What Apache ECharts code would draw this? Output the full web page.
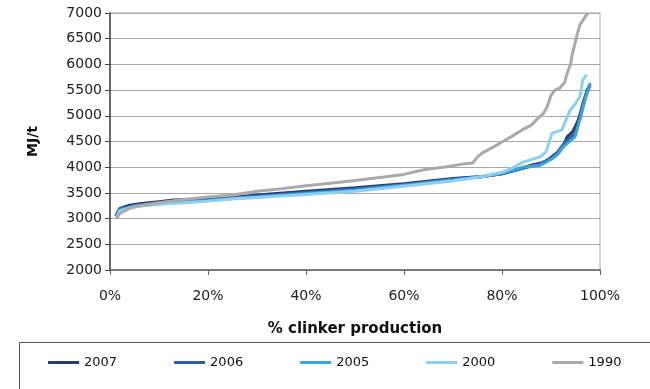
<!DOCTYPE html>
<html>
<head>
<meta charset="utf-8">
<script src="https://cdn.jsdelivr.net/npm/echarts@6/dist/echarts.min.js"></script>
<style>html,body{margin:0;padding:0;background:#fff}#c{width:650px;height:389px}</style>
</head>
<body>
<div id="c"></div>
<script>
var seriesNames = ['2007', '2006', '2005', '2000', '1990'];
var xTicks = [0, 20, 40, 60, 80, 100];
var yTicks = [2000, 2500, 3000, 3500, 4000, 4500, 5000, 5500, 6000, 6500, 7000];

var s2007 = [[1.2,3050],[2,3200],[4,3260],[6,3290],[10,3330],[13,3360],[20,3385],[25,3415],[30,3460],[40,3530],[50,3600],[60,3680],[70,3780],[76,3820],[80,3870],[84,3980],[86,4040],[88,4080],[89.5,4150],[90.5,4230],[91.4,4280],[92.5,4400],[93.3,4590],[94.5,4700],[95.5,4900],[96,5050],[96.7,5300],[97.4,5500],[97.9,5600]];
var s2006 = [[1.2,3050],[2,3190],[5,3260],[10,3310],[15,3340],[20,3370],[25,3400],[30,3440],[40,3510],[50,3580],[60,3660],[70,3770],[75.5,3810],[80,3870],[84.3,3980],[87.8,4060],[90,4170],[91.4,4300],[93,4500],[94.9,4650],[95.9,4950],[97,5350],[98,5600]];
var s2005 = [[1.3,3040],[2,3170],[5,3240],[10,3290],[15,3320],[20,3350],[25,3390],[30,3420],[40,3490],[50,3550],[60,3650],[70,3750],[75.5,3810],[80,3880],[84.3,4000],[87.8,4040],[90,4150],[91.4,4250],[92.4,4390],[94.9,4590],[95.9,4930],[96.9,5300],[98,5640]];
var s2000 = [[1.3,3020],[2,3150],[4,3210],[6,3240],[10,3280],[15,3310],[20,3340],[25,3380],[30,3410],[40,3470],[50,3530],[60,3630],[70,3730],[74,3790],[76,3820],[80,3900],[82,3980],[84.3,4100],[86,4150],[87.8,4200],[89,4300],[90.2,4660],[92.2,4720],[93.9,5110],[94.5,5170],[95.9,5370],[96.5,5700],[97.3,5800]];
var s1990 = [[1.3,3000],[2,3100],[4,3200],[6,3250],[10,3310],[15,3370],[20,3420],[25,3460],[30,3530],[35,3580],[40,3640],[45,3690],[50,3740],[55,3800],[60,3860],[64,3950],[68,4000],[72,4060],[74,4080],[75,4200],[76,4280],[78,4380],[80,4490],[82,4600],[84,4720],[86,4820],[87,4920],[88.5,5050],[89.2,5170],[90,5400],[90.8,5500],[91.8,5540],[92.8,5650],[93.3,5830],[94,6000],[94.3,6180],[94.9,6410],[95.3,6570],[95.9,6770],[97.2,6960],[97.6,7000]];

var colors = ['#2b3a6b', '#2c62a8', '#3ba5d8', '#8fd0f0', '#aaaaaa'];
var allData = [s2007, s2006, s2005, s2000, s1990];

var chart = echarts.init(document.getElementById('c'), null, {renderer: 'canvas'});
var font = 'DejaVu Sans, Arial, sans-serif';
chart.setOption({
  animation: false,
  backgroundColor: '#ffffff',
  color: colors,
  textStyle: {fontFamily: font},
  grid: {left: 110, right: 50, top: 13, bottom: 119, show: true, borderColor: '#a8a8a8', borderWidth: 1, backgroundColor: '#ffffff'},
  graphic: [{
    type: 'rect', left: 17, top: 340,
    shape: {width: 631, height: 80},
    style: {fill: 'none', stroke: '#555555', lineWidth: 1}
  }],
  legend: {
    left: 48, top: 356, padding: 0,
    itemWidth: 31, itemHeight: 3, itemGap: 57,
    icon: 'rect',
    textStyle: {fontFamily: font, fontSize: 13, color: '#111'},
    data: seriesNames
  },
  xAxis: {
    type: 'value', min: xTicks[0], max: xTicks[xTicks.length - 1], interval: 20,
    name: '% clinker production', nameLocation: 'middle', nameGap: 52,
    nameTextStyle: {fontFamily: font, fontWeight: 'bold', fontSize: 15, color: '#111'},
    axisLine: {show: true, lineStyle: {color: '#666', width: 1.5}},
    axisTick: {show: true, length: 5, lineStyle: {color: '#666'}},
    axisLabel: {formatter: '{value}%', fontSize: 14, color: '#222', margin: 19},
    splitLine: {show: false}
  },
  yAxis: {
    type: 'value', min: yTicks[0], max: yTicks[yTicks.length - 1], interval: 500,
    name: 'MJ/t', nameLocation: 'middle', nameGap: 70, nameRotate: 90,
    nameTextStyle: {fontFamily: font, fontWeight: 'bold', fontSize: 14, color: '#111'},
    axisLine: {show: true, lineStyle: {color: '#444', width: 1.5}},
    axisTick: {show: true, length: 5, lineStyle: {color: '#444'}},
    axisLabel: {fontSize: 14, color: '#222', margin: 8, formatter: function (v) { return String(v); }},
    splitLine: {show: true, lineStyle: {color: '#a8a8a8', width: 1}}
  },
  series: seriesNames.map(function (n, i) {
    return {
      name: n, type: 'line', data: allData[i], showSymbol: false, symbol: 'none',
      lineStyle: {width: 3, color: colors[i]}, itemStyle: {color: colors[i]}
    };
  })
});
</script>
</body>
</html>
